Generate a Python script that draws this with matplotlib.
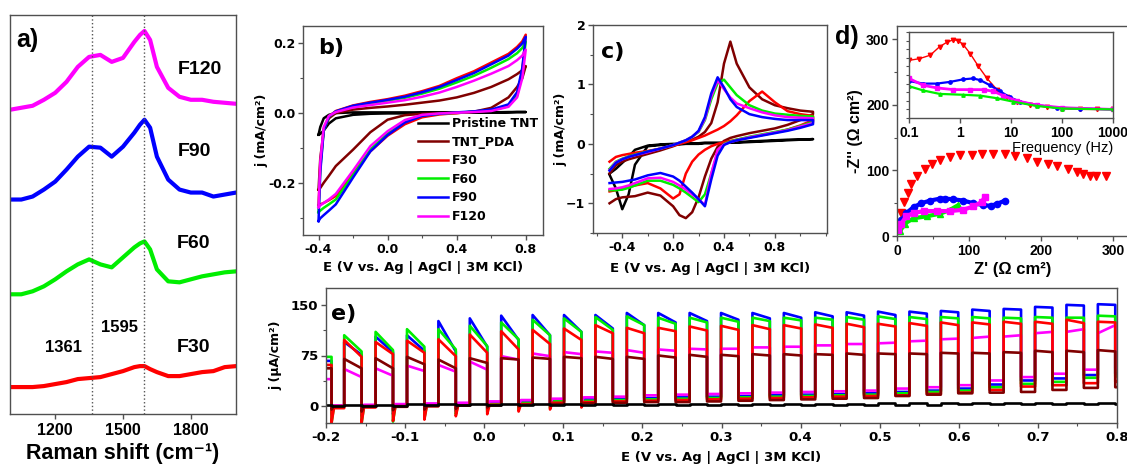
import numpy as np
import matplotlib
matplotlib.use('Agg')
import matplotlib.pyplot as plt
from matplotlib.ticker import MultipleLocator, NullFormatter

# ---------------- colours / labels ----------------
series_labels = ['Pristine TNT', 'TNT_PDA', 'F30', 'F60', 'F90', 'F120']
C_BLACK, C_PDA, C_F30, C_F60, C_F90, C_F120 = '#000000', '#800000', '#ff0000', '#00ee00', '#0000ff', '#ff00ff'

# ---------------- a) Raman ----------------
raman_x = [1000, 1050, 1100, 1150, 1200, 1250, 1300, 1350, 1400, 1450, 1500, 1550, 1575,
           1595, 1620, 1650, 1700, 1750, 1800, 1850, 1900, 1950, 2000]
raman_f120 = [305, 307, 309, 315, 322, 333, 348, 358, 360, 353, 357, 373, 380,
              384, 375, 348, 327, 318, 315, 315, 313, 312, 311]
raman_f90 = [215, 215, 218, 225, 233, 245, 258, 268, 267, 258, 268, 282, 290,
             295, 287, 258, 235, 225, 222, 222, 218, 220, 222]
raman_f60 = [120, 120, 123, 128, 135, 143, 150, 155, 150, 147, 157, 167, 171,
             173, 165, 145, 133, 132, 135, 138, 140, 142, 143]
raman_f30 = [27, 27, 27, 28, 30, 32, 35, 36, 37, 40, 43, 47, 48,
             48, 45, 42, 38, 38, 40, 42, 43, 47, 48]
raman_marks = [1361, 1595]

# ---------------- b) CV in background electrolyte ----------------
b_E = [-0.4, -0.39, -0.37, -0.34, -0.3, -0.2, -0.1, 0.0, 0.1, 0.2, 0.3, 0.4, 0.5, 0.6, 0.7, 0.75, 0.78, 0.8]
b_black_up = [-0.062, -0.04, -0.015, -0.005, 0.0, 0.002, 0.002, 0.002, 0.002, 0.002, 0.002, 0.002, 0.002, 0.002, 0.003, 0.003, 0.003, 0.003]
b_black_dn = [-0.062, -0.06, -0.05, -0.03, -0.015, -0.005, -0.002, -0.001, -0.001, 0.0, 0.0, 0.001, 0.001, 0.002, 0.002, 0.003, 0.003, 0.003]
b_pda_up = [-0.22, -0.13, -0.05, -0.015, 0.0, 0.01, 0.015, 0.019, 0.024, 0.03, 0.036, 0.045, 0.058, 0.075, 0.097, 0.112, 0.123, 0.135]
b_pda_dn = [-0.22, -0.215, -0.2, -0.18, -0.152, -0.105, -0.055, -0.019, -0.006, -0.002, 0.0, 0.0, 0.004, 0.015, 0.045, 0.075, 0.1, 0.135]
b_f30_up = [-0.265, -0.15, -0.045, -0.01, 0.006, 0.022, 0.032, 0.04, 0.05, 0.063, 0.078, 0.1, 0.12, 0.145, 0.17, 0.19, 0.206, 0.225]
b_f30_dn = [-0.265, -0.262, -0.258, -0.25, -0.238, -0.17, -0.11, -0.065, -0.032, -0.012, -0.004, 0.0, 0.004, 0.008, 0.02, 0.05, 0.12, 0.225]
b_f60_up = [-0.285, -0.16, -0.05, -0.01, 0.004, 0.019, 0.028, 0.036, 0.044, 0.056, 0.07, 0.088, 0.107, 0.13, 0.155, 0.172, 0.187, 0.205]
b_f60_dn = [-0.285, -0.28, -0.272, -0.262, -0.248, -0.178, -0.105, -0.058, -0.025, -0.007, -0.002, 0.001, 0.004, 0.008, 0.02, 0.05, 0.12, 0.205]
b_f90_up = [-0.31, -0.17, -0.05, -0.01, 0.005, 0.021, 0.03, 0.038, 0.047, 0.06, 0.075, 0.095, 0.115, 0.14, 0.165, 0.185, 0.2, 0.219]
b_f90_dn = [-0.31, -0.302, -0.293, -0.28, -0.262, -0.185, -0.11, -0.063, -0.027, -0.008, -0.002, 0.002, 0.005, 0.01, 0.025, 0.06, 0.13, 0.219]
b_f120_up = [-0.27, -0.14, -0.04, -0.008, 0.003, 0.016, 0.023, 0.03, 0.037, 0.047, 0.059, 0.075, 0.093, 0.113, 0.135, 0.152, 0.165, 0.182]
b_f120_dn = [-0.27, -0.265, -0.258, -0.248, -0.232, -0.165, -0.095, -0.052, -0.02, -0.005, -0.001, 0.001, 0.003, 0.006, 0.018, 0.045, 0.1, 0.182]

# ---------------- c) CV with redox probe ----------------
c_E = [-0.5, -0.45, -0.4, -0.35, -0.3, -0.2, -0.1, 0.0, 0.05, 0.1, 0.15, 0.2, 0.25, 0.3, 0.35, 0.4,
       0.45, 0.5, 0.6, 0.7, 0.8, 0.9, 1.0, 1.1]
c_black_up = [-0.5, -0.42, -0.32, -0.22, -0.1, -0.03, -0.01, 0.0, 0.0, 0.01, 0.01, 0.01, 0.02, 0.02, 0.02, 0.02, 0.03, 0.03, 0.04, 0.05, 0.06, 0.07, 0.07, 0.08]
c_black_dn = [-0.52, -0.75, -1.1, -0.85, -0.35, -0.04, -0.02, -0.01, -0.01, 0.0, 0.0, 0.0, 0.01, 0.01, 0.01, 0.01, 0.02, 0.02, 0.03, 0.04, 0.05, 0.06, 0.07, 0.08]
c_pda_up = [-0.5, -0.36, -0.3, -0.26, -0.23, -0.17, -0.11, -0.04, 0.0, 0.03, 0.07, 0.12, 0.2, 0.35, 0.7, 1.35, 1.72, 1.35, 0.95, 0.75, 0.65, 0.6, 0.56, 0.54]
c_pda_dn = [-1.0, -0.93, -0.9, -0.89, -0.88, -0.82, -0.87, -1.05, -1.2, -1.25, -1.15, -0.9, -0.55, -0.25, -0.05, 0.05, 0.1, 0.13, 0.18, 0.22, 0.26, 0.32, 0.4, 0.5]
c_f30_up = [-0.3, -0.22, -0.19, -0.17, -0.15, -0.12, -0.08, -0.03, 0.0, 0.03, 0.06, 0.1, 0.14, 0.19, 0.24, 0.3, 0.38, 0.48, 0.72, 0.88, 0.7, 0.55, 0.5, 0.47]
c_f30_dn = [-0.8, -0.78, -0.76, -0.73, -0.7, -0.66, -0.75, -0.92, -0.85, -0.5, -0.3, -0.18, -0.1, -0.04, 0.0, 0.03, 0.05, 0.07, 0.11, 0.15, 0.19, 0.24, 0.31, 0.4]
c_f60_up = [-0.42, -0.3, -0.25, -0.21, -0.18, -0.13, -0.08, -0.02, 0.02, 0.06, 0.12, 0.2, 0.4, 0.75, 1.02, 1.08, 0.95, 0.82, 0.65, 0.56, 0.51, 0.49, 0.47, 0.46]
c_f60_dn = [-0.78, -0.78, -0.77, -0.74, -0.7, -0.62, -0.62, -0.69, -0.75, -0.82, -0.9, -0.98, -0.85, -0.5, -0.15, 0.0, 0.04, 0.07, 0.12, 0.16, 0.2, 0.24, 0.3, 0.37]
c_f90_up = [-0.45, -0.32, -0.26, -0.22, -0.19, -0.13, -0.08, -0.02, 0.02, 0.06, 0.12, 0.22, 0.45, 0.85, 1.12, 0.95, 0.75, 0.62, 0.5, 0.45, 0.42, 0.4, 0.4, 0.4]
c_f90_dn = [-0.66, -0.65, -0.64, -0.62, -0.6, -0.53, -0.49, -0.55, -0.62, -0.72, -0.82, -0.93, -1.05, -0.6, -0.2, -0.02, 0.03, 0.06, 0.1, 0.14, 0.18, 0.22, 0.27, 0.33]
c_f120_up = [-0.44, -0.31, -0.26, -0.22, -0.19, -0.14, -0.08, -0.02, 0.02, 0.06, 0.12, 0.21, 0.42, 0.8, 1.07, 0.92, 0.78, 0.68, 0.6, 0.53, 0.48, 0.45, 0.44, 0.43]
c_f120_dn = [-0.76, -0.75, -0.73, -0.7, -0.66, -0.58, -0.57, -0.64, -0.7, -0.77, -0.85, -0.93, -1.03, -0.5, -0.1, -0.01, 0.03, 0.06, 0.11, 0.15, 0.19, 0.23, 0.29, 0.35]

# ---------------- d) Nyquist + inset ----------------
d_f30_zre = [1, 2, 5, 10, 15, 20, 28, 39, 48, 60, 74, 88, 104, 118, 134, 150, 164, 180, 194, 210, 222, 238, 250, 259, 268, 277, 290]
d_f30_zim = [9, 19, 35, 52, 66, 79, 92, 102, 110, 116, 121, 123, 124, 125, 125, 125, 122, 119, 113, 110, 106, 102, 97, 94, 92, 91, 92]
d_f90_zre = [2, 6, 13, 23, 34, 46, 60, 67, 78, 92, 106, 120, 130, 139, 150]
d_f90_zim = [12, 24, 35, 44, 50, 54, 57, 57, 56, 54, 50, 47, 46, 49, 54]
d_f120_zre = [2, 6, 13, 23, 37, 55, 74, 92, 106, 118, 122]
d_f120_zim = [9, 19, 30, 35, 38, 38, 38, 40, 45, 52, 60]
d_f60_zre = [4, 11, 23, 41, 60, 74, 85]
d_f60_zim = [7, 19, 27, 30, 34, 40, 47]

inset_f30_freq = [0.1, 0.16, 0.26, 0.4, 0.55, 0.74, 0.93, 1.17, 1.58, 2.3, 3.4, 5.3, 8.3, 13, 24, 50, 100, 230, 480, 1000]
inset_f30_val = [67, 69, 73, 83, 88, 91, 90, 85, 75, 60, 46, 33, 24, 19, 15, 13, 11, 10, 10, 10]
inset_f90_freq = [0.1, 0.19, 0.35, 0.64, 1.17, 1.8, 2.5, 3.9, 6.1, 9.6, 15, 32, 80, 230, 1000]
inset_f90_val = [43, 40, 40, 42, 45, 46, 44, 38, 31, 24, 19, 15, 12, 11, 10]
inset_f120_freq = [0.1, 0.19, 0.35, 0.74, 1.58, 2.9, 4.5, 7.1, 13, 32, 100, 1000]
inset_f120_val = [46, 38, 35, 33, 33, 33, 31, 26, 20, 15, 12, 10]
inset_f60_freq = [0.1, 0.19, 0.4, 1.17, 2.5, 5.3, 11, 32, 100, 1000]
inset_f60_val = [37, 32, 28, 27, 26, 23, 19, 14, 11, 10]

# ---------------- e) chopped-light LSV ----------------
chop_first_on = -0.177      # first light-on potential (V)
chop_period = 0.0397        # potential per light on/off cycle (V)
chop_on_width = 0.022       # light-on span (V)
n_pulses = 25
start_off = -0.193          # end of the partial pulse at the start

e_start = {'f90': 67, 'f60': 73, 'f30': 61, 'pda': 56, 'f120': 40, 'black': 2}
e_f90_on = [95, 103, 105, 126, 130, 134, 135, 135, 135, 138, 138, 138, 138, 138, 138, 139, 139, 140, 140, 141, 143, 144, 147, 150, 151]
e_f90_end = [76, 80, 82, 81, 88, 98, 105, 110, 115, 120, 124, 126, 128, 130, 131, 133, 134, 135, 137, 139, 141, 143, 146, 149, 150]
e_f60_on = [105, 110, 114, 114, 119, 124, 128, 130, 132, 133, 131, 131, 131, 131, 131, 131, 132, 133, 132, 132, 132, 131, 132, 131, 134]
e_f60_end = [81, 83, 88, 84, 89, 99, 105, 110, 113, 120, 122, 124, 125, 126, 127, 128, 128, 129, 129, 130, 130, 130, 131, 131, 133]
e_f30_on = [98, 95, 97, 99, 106, 111, 113, 115, 120, 116, 116, 118, 119, 120, 120, 121, 122, 122, 123, 124, 124, 125, 125, 128, 125]
e_f30_end = [73, 77, 79, 74, 79, 84, 92, 98, 108, 108, 111, 112, 113, 114, 115, 116, 117, 118, 119, 120, 121, 122, 122, 123, 124]
e_pda_on = [70, 71, 73, 69, 71, 71, 72, 73, 73, 73, 75, 76, 76, 77, 77, 77, 78, 78, 78, 79, 79, 80, 82, 82, 83]
e_pda_end = [56, 56, 62, 56, 64, 69, 70, 71, 70, 70, 72, 73, 74, 75, 75, 76, 76, 77, 77, 78, 78, 79, 80, 80, 81]
e_f120_on = [55, 56, 60, 61, 66, 74, 78, 80, 81, 83, 84, 85, 85, 87, 88, 90, 92, 93, 96, 99, 101, 103, 108, 110, 108]
e_f120_end = [43, 45, 52, 51, 54, 69, 74, 77, 79, 79, 82, 84, 85, 87, 88, 90, 92, 94, 97, 100, 103, 105, 110, 114, 120]
e_black_on = [2, 2, 3, 3, 3, 3, 3, 3, 3, 3, 3, 3, 3, 3, 3, 3, 3, 4, 4, 4, 4, 4, 5, 5, 5]
e_black_end = [2, 2, 3, 3, 3, 3, 3, 3, 3, 3, 3, 3, 3, 3, 3, 3, 3, 4, 4, 4, 4, 4, 5, 5, 5]
# dark current in each gap (gap 0 = before the first full pulse)
e_f120_dark = [1, 2, 3, 4, 5, 7, 9, 11, 13, 14, 16, 17, 18, 19, 20, 21, 22, 23, 26, 28, 31, 38, 43, 48, 54, 56]
e_f90_dark = [0, 0, 1, 2, 3, 4, 6, 8, 10, 11, 12, 13, 14, 15, 16, 17, 18, 19, 21, 23, 26, 32, 38, 41, 46, 48]
e_f60_dark = [0, 0, 0, 1, 2, 3, 5, 7, 8, 9, 10, 11, 12, 13, 14, 15, 16, 17, 19, 21, 23, 28, 33, 36, 42, 44]
e_f30_dark = [-3, -2, -1, 0, 1, 2, 3, 5, 6, 7, 8, 9, 10, 11, 12, 13, 14, 15, 16, 18, 20, 24, 29, 31, 34, 36]
e_pda_dark = [0, 0, 0, 0, 1, 1, 2, 3, 4, 5, 6, 6, 7, 8, 9, 10, 11, 12, 15, 17, 19, 20, 21, 24, 27, 28]
e_black_dark = [0, 0, 0, 1, 1, 1, 1, 1, 1, 1, 1, 2, 2, 2, 2, 2, 2, 2, 2, 2, 3, 3, 3, 3, 3, 3]
# negative spike right after light-off, first gaps only
e_f30_dip = [-25, -25, -22, -20, -15, -12, -8, -5, -2]
e_f60_dip = [-25, -25, -23, -18, -12, -8, -5, -3, 0]
e_f90_dip = [-12, -15, -12, -10, -8, -5, -3, 0, 2]
e_pda_dip = [-5, -8, -6, -5, -4, -2, 0, 1, 2]
e_f120_dip = [-2, -4, -3, -2, -1, 0, 2, 4, 6]
e_black_dip = []

# ---------------- layout helpers ----------------
W, H = 1127, 467
fig = plt.figure(figsize=(W / 100, H / 100), dpi=100)


def rect(l, t, r, b):
    return [l / W, 1 - b / H, (r - l) / W, (b - t) / H]


def ftext(x, y, s, **kw):
    fig.text(x / W, 1 - y / H, s, ha='center', va='center', **kw)


SPINE = '#505050'
LIB = 'Liberation Sans'
DJV = 'DejaVu Sans'


def style(ax, family, tsize, pad=2):
    for sp in ax.spines.values():
        sp.set_color(SPINE)
        sp.set_linewidth(1.0)
    ax.tick_params(which='major', direction='out', length=3.5, width=1, color=SPINE, pad=pad)
    ax.tick_params(which='minor', direction='out', length=2, width=0.8, color=SPINE)
    for lab in ax.get_xticklabels() + ax.get_yticklabels():
        lab.set_fontfamily(family)
        lab.set_fontweight('bold')
        lab.set_fontsize(tsize)


# ================= a) =================
ax = fig.add_axes(rect(10, 15, 236, 414))
for ys, c in [(raman_f120, C_F120), (raman_f90, C_F90), (raman_f60, C_F60), (raman_f30, C_F30)]:
    ax.plot(raman_x, ys, color=c, lw=3.0, solid_joinstyle='round')
for xm in raman_marks:
    ax.axvline(xm, color='#555555', ls=':', lw=1.0)
ax.set_xlim(1000, 2000)
ax.set_ylim(0, 400)
ax.set_yticks([])
ax.set_xticks([1200, 1500, 1800])
style(ax, LIB, 11.5, pad=3)
ftext(123, 454, 'Raman shift (cm⁻¹)', family=[LIB, DJV], fontweight='bold', fontsize=15.5)
ftext(27, 40, 'a)', fontfamily=LIB, fontweight='bold', fontsize=18)
for s, x, y in [('F120', 200, 70), ('F90', 194, 152), ('F60', 194, 243), ('F30', 194, 348),
                ('1595', 120, 328), ('1361', 64, 348)]:
    ftext(x, y, s, fontfamily=LIB, fontweight='bold', fontsize=14 if s.startswith('F') else 12)

# ================= b) =================
ax = fig.add_axes(rect(303, 26, 543, 235))
b_sets = [(b_black_up, b_black_dn, C_BLACK), (b_pda_up, b_pda_dn, C_PDA), (b_f30_up, b_f30_dn, C_F30),
          (b_f60_up, b_f60_dn, C_F60), (b_f90_up, b_f90_dn, C_F90), (b_f120_up, b_f120_dn, C_F120)]
handles = []
for (up, dn, c), lab in zip(b_sets, series_labels):
    h, = ax.plot(b_E + b_E[::-1], up + dn[::-1], color=c, lw=1.8, label=lab)
    handles.append(h)
ax.set_xlim(-0.49, 0.9)
ax.set_ylim(-0.35, 0.25)
ax.set_xticks([-0.4, 0.0, 0.4, 0.8])
ax.set_yticks([-0.2, 0.0, 0.2])
ax.xaxis.set_minor_locator(MultipleLocator(0.2))
ax.yaxis.set_minor_locator(MultipleLocator(0.1))
ax.xaxis.set_major_formatter(plt.FuncFormatter(lambda v, p: f'{v:.1f}'))
ax.yaxis.set_major_formatter(plt.FuncFormatter(lambda v, p: f'{v:.1f}'))
style(ax, DJV, 9)
ax.set_xlabel('E (V vs. Ag | AgCl | 3M KCl)', fontfamily=DJV, fontweight='bold', fontsize=9.5, labelpad=4)
ax.set_ylabel('j (mA/cm²)', fontfamily=DJV, fontweight='bold', fontsize=9, labelpad=0)
leg = ax.legend(handles=handles, loc='upper left', bbox_to_anchor=(0.48, 0.565), frameon=False,
                prop=dict(family=DJV, weight='bold', size=9), handlelength=2.4, handletextpad=0.3,
                labelspacing=0.45, borderaxespad=0, borderpad=0)
ftext(331, 48, 'b)', fontfamily=DJV, fontweight='bold', fontsize=16)

# ================= c) =================
ax = fig.add_axes(rect(593, 25, 827, 233))
c_sets = [(c_black_up, c_black_dn, C_BLACK), (c_pda_up, c_pda_dn, C_PDA), (c_f30_up, c_f30_dn, C_F30),
          (c_f60_up, c_f60_dn, C_F60), (c_f120_up, c_f120_dn, C_F120), (c_f90_up, c_f90_dn, C_F90)]
for up, dn, c in c_sets:
    ax.plot(c_E + c_E[::-1], up + dn[::-1], color=c, lw=1.8)
ax.set_xlim(-0.63, 1.21)
ax.set_ylim(-1.5, 2.0)
ax.set_xticks([-0.4, 0.0, 0.4, 0.8])
ax.set_yticks([-1, 0, 1, 2])
ax.xaxis.set_minor_locator(MultipleLocator(0.2))
ax.yaxis.set_minor_locator(MultipleLocator(0.5))
ax.xaxis.set_major_formatter(plt.FuncFormatter(lambda v, p: f'{v:.1f}'))
style(ax, DJV, 9)
ax.set_xlabel('E (V vs. Ag | AgCl | 3M KCl)', fontfamily=DJV, fontweight='bold', fontsize=9.5, labelpad=6)
ax.set_ylabel('j (mA/cm²)', fontfamily=DJV, fontweight='bold', fontsize=9, labelpad=-1)
ftext(613, 52, 'c)', fontfamily=DJV, fontweight='bold', fontsize=16)

# ================= d) =================
ax = fig.add_axes(rect(897, 26, 1128, 236))
ax.plot(d_f30_zre, d_f30_zim, ls='none', marker='v', ms=6, color=C_F30)
ax.plot(d_f90_zre, d_f90_zim, ls='-', lw=3, marker='o', ms=4.5, color=C_F90)
ax.plot(d_f60_zre, d_f60_zim, ls='-', lw=3, marker='^', ms=4.5, color=C_F60)
ax.plot(d_f120_zre, d_f120_zim, ls='-', lw=3, marker='s', ms=4.5, color=C_F120)
ax.set_xlim(0, 321)
ax.set_ylim(0, 320)
ax.set_xticks([0, 100, 200, 300])
ax.set_yticks([0, 100, 200, 300])
ax.xaxis.set_minor_locator(MultipleLocator(50))
ax.yaxis.set_minor_locator(MultipleLocator(50))
style(ax, LIB, 10)
ax.set_xlabel("Z' (Ω cm²)", fontfamily=LIB, fontweight='bold', fontsize=12, labelpad=3)
ax.set_ylabel("-Z'' (Ω cm²)", fontfamily=LIB, fontweight='bold', fontsize=11.5, labelpad=2)
ftext(847, 37, 'd)', fontfamily=LIB, fontweight='bold', fontsize=18)

axi = fig.add_axes(rect(909, 32, 1113, 118))
axi.set_xscale('log')
axi.plot(inset_f30_freq, inset_f30_val, ls='-', lw=1.0, marker='v', ms=3.2, color=C_F30)
axi.plot(inset_f90_freq, inset_f90_val, ls='-', lw=1.6, marker='o', ms=2.4, color=C_F90)
axi.plot(inset_f120_freq, inset_f120_val, ls='-', lw=2.0, marker='s', ms=2.4, color=C_F120)
axi.plot(inset_f60_freq, inset_f60_val, ls='-', lw=1.6, marker='^', ms=2.4, color=C_F60)
axi.set_xlim(0.1, 1000)
axi.set_ylim(0, 100)
axi.set_xticks([0.1, 1, 10, 100, 1000])
axi.set_xticklabels(['0.1', '1', '10', '100', '1000'])
axi.xaxis.set_minor_formatter(NullFormatter())
axi.set_yticks([])
axi.yaxis.set_minor_locator(MultipleLocator(10))
style(axi, LIB, 10)
axi.tick_params(axis='x', which='minor', length=0)
axi.set_xlabel('Frequency (Hz)', fontfamily=LIB, fontsize=10.5, labelpad=1, loc='right')

# ================= e) =================
ax = fig.add_axes(rect(326, 288, 1117, 423))
chop_on = [chop_first_on + k * chop_period for k in range(n_pulses)]


def chop_trace(start, on, end, dark, dip):
    dip_w = 0.003
    E = [-0.2, start_off, start_off]
    J = [start, start, dip[0] if len(dip) > 0 else dark[0]]
    E.append(start_off + dip_w)
    J.append(dark[0])
    for k, e_on in enumerate(chop_on):
        e_off = e_on + chop_on_width
        E += [e_on, e_on, e_off, e_off]
        J += [dark[k], on[k], end[k], dip[k + 1] if k + 1 < len(dip) else dark[k + 1]]
        E.append(min(e_off + dip_w, 0.8))
        J.append(dark[k + 1])
    E.append(0.8)
    J.append(dark[-1])
    return E, J


e_sets = [('f90', e_f90_on, e_f90_end, e_f90_dark, e_f90_dip, C_F90),
          ('f60', e_f60_on, e_f60_end, e_f60_dark, e_f60_dip, C_F60),
          ('f120', e_f120_on, e_f120_end, e_f120_dark, e_f120_dip, C_F120),
          ('f30', e_f30_on, e_f30_end, e_f30_dark, e_f30_dip, C_F30),
          ('pda', e_pda_on, e_pda_end, e_pda_dark, e_pda_dip, C_PDA),
          ('black', e_black_on, e_black_end, e_black_dark, e_black_dip, C_BLACK)]
for key, on, end, dark, dip, c in e_sets:
    E, J = chop_trace(e_start[key], on, end, dark, dip)
    ax.plot(E, J, color=c, lw=1.9)
ax.set_xlim(-0.2, 0.8)
ax.set_ylim(-25, 175)
ax.set_xticks(np.round(np.arange(-0.2, 0.81, 0.1), 1))
ax.set_yticks([0, 75, 150])
ax.xaxis.set_minor_locator(MultipleLocator(0.05))
ax.yaxis.set_minor_locator(MultipleLocator(37.5))
ax.xaxis.set_major_formatter(plt.FuncFormatter(lambda v, p: f'{v:.1f}'))
style(ax, DJV, 9.5)
ax.set_xlabel('E (V vs. Ag | AgCl | 3M KCl)', fontfamily=DJV, fontweight='bold', fontsize=9.5, labelpad=5)
ax.set_ylabel('j (μA/cm²)', fontfamily=DJV, fontweight='bold', fontsize=9, labelpad=6)
ftext(344, 314, 'e)', fontfamily=DJV, fontweight='bold', fontsize=16)

fig.savefig('out.png', dpi=100)
